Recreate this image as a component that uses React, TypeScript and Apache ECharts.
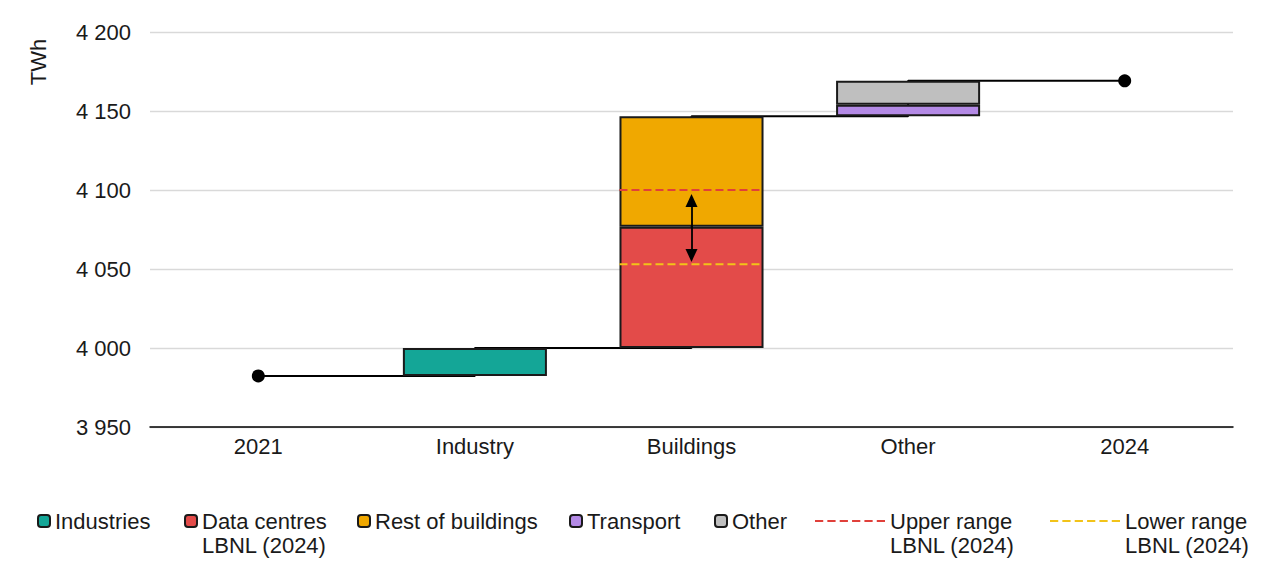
import React, { useEffect, useRef } from 'react';
import * as echarts from 'echarts';

// ---------- data ----------
const categories = ['2021', 'Industry', 'Buildings', 'Other', '2024'];
const startTotal = 3982.3; // 2021
const endTotal = 4169.1; // 2024
const industriesValues = [null, 17.7, null, null, null];
const dataCentresValues = [null, null, 76.8, null, null];
const restOfBuildingsValues = [null, null, 69.8, null, null];
const transportValues = [null, null, null, 7.3, null];
const otherValues = [null, null, null, 15.2, null];
const upperRangeValue = 4100;
const lowerRangeValue = 4053;
const rangeCategoryIndex = 2;
const yMin = 3950;
const yMax = 4200;
const yInterval = 50;

const seriesNames = {
  industries: 'Industries',
  dataCentres: 'Data centres\nLBNL (2024)',
  rest: 'Rest of buildings',
  transport: 'Transport',
  other: 'Other',
  upper: 'Upper range\nLBNL (2024)',
  lower: 'Lower range\nLBNL (2024)',
};

// ---------- style ----------
const FONT = 'Liberation Sans, Arial, sans-serif';
const FS = 22;
const TEXT = '#1a1a1a';
const BORDER = '#1a1a1a';
const colors = {
  industries: '#14a697',
  dataCentres: '#e34b49',
  rest: '#f0a800',
  transport: '#b48ae6',
  other: '#bfbfbf',
  upper: '#e0403a',
  lower: '#f2c319',
};
const BAR_FRACTION = 0.665;
const DASH_ICON =
  'path://M0,0h8v2h-8z M12,0h8v2h-8z M24,0h8v2h-8z M36,0h8v2h-8z M48,0h8v2h-8z M60,0h8v2h-8z';

const fmt = (v: number) => String(v).replace(/\B(?=(\d{3})+(?!\d))/g, ' ');

export default function App() {
  const ref = useRef<HTMLDivElement>(null);

  useEffect(() => {
    if (!ref.current) return;
    const chart = echarts.init(ref.current, null, { renderer: 'svg' });

    const segments = [industriesValues, dataCentresValues, restOfBuildingsValues, transportValues, otherValues];
    const catTotals = categories.map((_, i) =>
      segments.reduce((s, arr) => s + ((arr[i] as number | null) ?? 0), 0)
    );
    const levels: number[] = [];
    categories.forEach((_, i) => {
      if (i === 0) levels.push(startTotal);
      else if (i === categories.length - 1) levels.push(endTotal);
      else levels.push(levels[i - 1] + catTotals[i]);
    });
    const base = categories.map((_, i) =>
      i > 0 && i < categories.length - 1 ? levels[i - 1] : '-'
    );
    const toData = (arr: (number | null)[]) => arr.map((v) => (v == null ? '-' : v));

    const barSeries = (name: string, data: (number | null)[], color: string) => ({
      name,
      type: 'bar',
      stack: 'wf',
      barWidth: BAR_FRACTION * 100 + '%',
      data: toData(data),
      z: 3,
      itemStyle: { color, borderColor: BORDER, borderWidth: 2 },
      emphasis: { disabled: true },
    });

    const hw = BAR_FRACTION / 2;

    const legendItem = (name: string, left: number, multi: boolean, isLine: boolean) => ({
      data: [isLine ? { name, icon: DASH_ICON } : name],
      left,
      top: multi ? 485 : 509,
      orient: 'horizontal',
      padding: 0,
      itemWidth: isLine ? 70 : 12,
      itemHeight: isLine ? 2.5 : 12,
      selectedMode: false,
      formatter: (n: string) => (multi ? '\n' + n : n),
      textStyle: {
        fontFamily: FONT,
        fontSize: FS,
        color: TEXT,
        lineHeight: 24,
      },
    });

    chart.setOption({
      animation: false,
      textStyle: { fontFamily: FONT },
      grid: { left: 150, right: 47, top: 32, bottom: 150 },
      legend: [
        legendItem(seriesNames.industries, 37, false, false),
        legendItem(seriesNames.dataCentres, 184, true, false),
        legendItem(seriesNames.rest, 357, false, false),
        legendItem(seriesNames.transport, 569, false, false),
        legendItem(seriesNames.other, 714, false, false),
        legendItem(seriesNames.upper, 815, true, true),
        legendItem(seriesNames.lower, 1050, true, true),
      ],
      graphic: [
        {
          type: 'text',
          x: 38,
          y: 62,
          rotation: Math.PI / 2,
          style: {
            text: 'TWh',
            fontFamily: FONT,
            fontSize: FS,
            fill: TEXT,
            align: 'center',
            verticalAlign: 'middle',
          },
        },
      ],
      xAxis: [
        {
          type: 'category',
          data: categories,
          axisLine: { lineStyle: { color: '#000', width: 1.5 } },
          axisTick: { show: false },
          axisLabel: { fontFamily: FONT, fontSize: FS, color: TEXT, margin: 8 },
        },
        { type: 'value', min: -0.5, max: categories.length - 0.5, show: false },
      ],
      yAxis: {
        type: 'value',
        min: yMin,
        max: yMax,
        interval: yInterval,
        axisLine: { show: false },
        axisTick: { show: false },
        axisLabel: { fontFamily: FONT, fontSize: FS, color: TEXT, margin: 19, formatter: fmt },
        splitLine: { lineStyle: { color: '#d9d9d9', width: 1.3 } },
      },
      series: [
        {
          name: 'connector',
          type: 'line',
          step: 'end',
          data: levels,
          symbol: 'none',
          z: 1,
          lineStyle: { color: '#000', width: 2 },
          emphasis: { disabled: true },
          silent: true,
        },
        {
          name: 'base',
          type: 'bar',
          stack: 'wf',
          barWidth: BAR_FRACTION * 100 + '%',
          data: base,
          z: 3,
          itemStyle: { color: 'transparent', borderWidth: 0 },
          emphasis: { disabled: true },
          silent: true,
        },
        barSeries(seriesNames.industries, industriesValues, colors.industries),
        barSeries(seriesNames.dataCentres, dataCentresValues, colors.dataCentres),
        barSeries(seriesNames.rest, restOfBuildingsValues, colors.rest),
        barSeries(seriesNames.transport, transportValues, colors.transport),
        barSeries(seriesNames.other, otherValues, colors.other),
        {
          name: 'totals',
          type: 'scatter',
          data: [
            [categories[0], startTotal],
            [categories[categories.length - 1], endTotal],
          ],
          symbolSize: 13,
          itemStyle: { color: '#000', opacity: 1 },
          z: 5,
          silent: true,
        },
        {
          name: seriesNames.upper,
          type: 'line',
          xAxisIndex: 1,
          data: [
            [rangeCategoryIndex - hw, upperRangeValue],
            [rangeCategoryIndex + hw, upperRangeValue],
          ],
          symbol: 'none',
          z: 6,
          lineStyle: { color: colors.upper, width: 2, type: [8, 4] },
          itemStyle: { color: colors.upper },
          emphasis: { disabled: true },
          silent: true,
          markLine: {
            silent: true,
            symbol: ['triangle', 'triangle'],
            symbolSize: [12, 13],
            label: { show: false },
            lineStyle: { color: '#000', width: 1.8, type: 'solid' },
            emphasis: { disabled: true },
            data: [
              [
                { coord: [rangeCategoryIndex, upperRangeValue - 6.7] },
                { coord: [rangeCategoryIndex, lowerRangeValue + 5.6] },
              ],
            ],
          },
        },
        {
          name: seriesNames.lower,
          type: 'line',
          xAxisIndex: 1,
          data: [
            [rangeCategoryIndex - hw, lowerRangeValue],
            [rangeCategoryIndex + hw, lowerRangeValue],
          ],
          symbol: 'none',
          z: 6,
          lineStyle: { color: colors.lower, width: 2, type: [8, 4] },
          itemStyle: { color: colors.lower },
          emphasis: { disabled: true },
          silent: true,
        },
      ],
    });

    return () => chart.dispose();
  }, []);

  return (
    <div
      ref={ref}
      style={{ position: 'fixed', left: 0, top: 0, width: 1280, height: 577, background: '#fff' }}
    />
  );
}
